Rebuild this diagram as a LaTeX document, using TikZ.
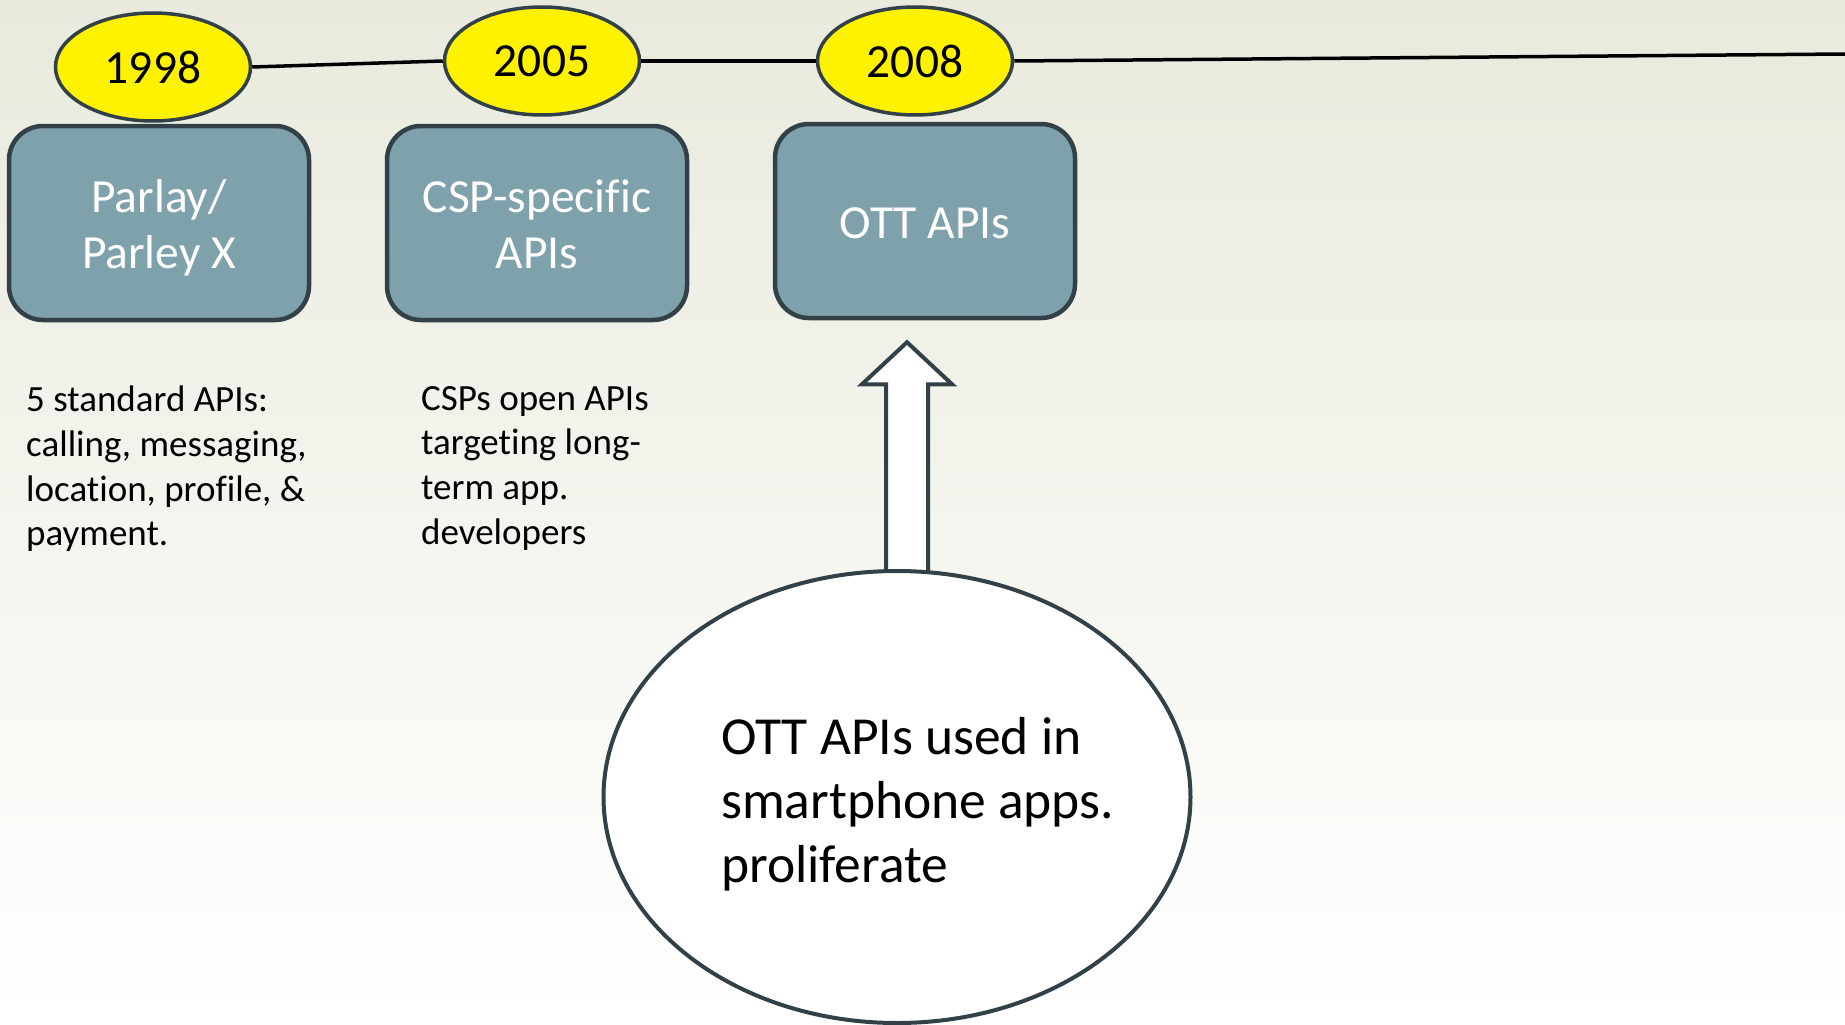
\documentclass[tikz,border=0pt]{standalone}
\usepackage{fontspec}
\setmainfont{Carlito}[Ligatures=NoCommon]
\usetikzlibrary{shapes.geometric,calc}
\definecolor{bgtop}{RGB}{233,234,221}
\definecolor{bgmid}{RGB}{243,243,236}
\definecolor{boxfill}{RGB}{127,161,172}
\definecolor{edge}{RGB}{50,65,72}
\tikzset{
  yearnode/.style={ellipse, draw=edge, line width=3.5pt, fill=yellow, minimum width=195pt, minimum height=108pt, inner sep=0pt, font=\fontsize{47.5}{52}\selectfont},
  apibox/.style={rectangle, rounded corners=34pt, draw=edge, line width=4.5pt, fill=boxfill, minimum width=300pt, minimum height=194pt, inner sep=0pt},
  apitext/.style={text=white, align=center, inner sep=0pt, font=\fontsize{47.5}{56}\selectfont},
  desc/.style={anchor=north west, inner sep=0pt, align=left, font=\fontsize{37}{44.7}\selectfont},
  bigell/.style={ellipse, draw=edge, line width=4pt, fill=white, minimum width=587pt, minimum height=452pt, inner sep=0pt},
  bigtext/.style={anchor=west, inner sep=0pt, align=left, font=\fontsize{53.5}{64}\selectfont},
  timeline/.style={line width=3.5pt, black},
  blockarrow/.style={draw=edge, line width=4pt, fill=white, line join=miter}
}
\begin{document}
\begin{tikzpicture}[x=1pt,y=-1pt]
\useasboundingbox (0,0) rectangle (1845,1025);
\shade[top color=bgtop, middle color=bgmid, bottom color=white] (0,0) rectangle (1845,1025);

% year ellipses
\node[yearnode] (y1998) at (153,67) {1998};
\node[yearnode] (y2005) at (542,61) {2005};
\node[yearnode] (y2008) at (915,61) {2008};
\coordinate (lineend) at (1845,54);

% timeline
\draw[timeline] (y1998.east) -- (y2005.west);
\draw[timeline] (y2005.east) -- (y2008.west);
\draw[timeline] (y2008.east) -- (lineend);

% API boxes
\node[apibox, label={[apitext, yshift=-5pt]center:Parlay/\\Parley X}] (parlay) at (159,223) {};
\node[apibox, label={[apitext, yshift=-1pt]center:CSP-specific\\APIs}] (csp) at (537,223) {};
\node[apibox, label={[apitext, yshift=-2pt]center:OTT APIs}] (ott) at (925,221) {};

% descriptions
\node[desc] (d1) at (26,386) {5 standard APIs:\\calling, messaging,\\location, profile, \&\\payment.};
\node[desc] (d2) at (421,386) {CSPs open APIs\\targeting long-\\term app.\\developers};

% big ellipse position
\coordinate (bigc) at (897,797);
\coordinate (bt) at (907,571);
\coordinate (tt) at ([yshift=-22pt]ott.south);
\coordinate (tip) at (bt |- tt);

% block arrow from ellipse to OTT box
\draw[blockarrow] (tip) -- ($(tip)+(45,42)$) -- ($(tip)+(21,42)$) -- ($(bt)+(21,10)$) -- ($(bt)+(-21,10)$) -- ($(tip)+(-21,42)$) -- ($(tip)+(-45,42)$) -- cycle;

\node[bigell] (big) at (bigc) {};
\node[bigtext] (bigtxt) at ([xshift=-176pt,yshift=-7pt]big.center) {OTT APIs used in\\smartphone apps.\\proliferate};
\end{tikzpicture}
\end{document}
